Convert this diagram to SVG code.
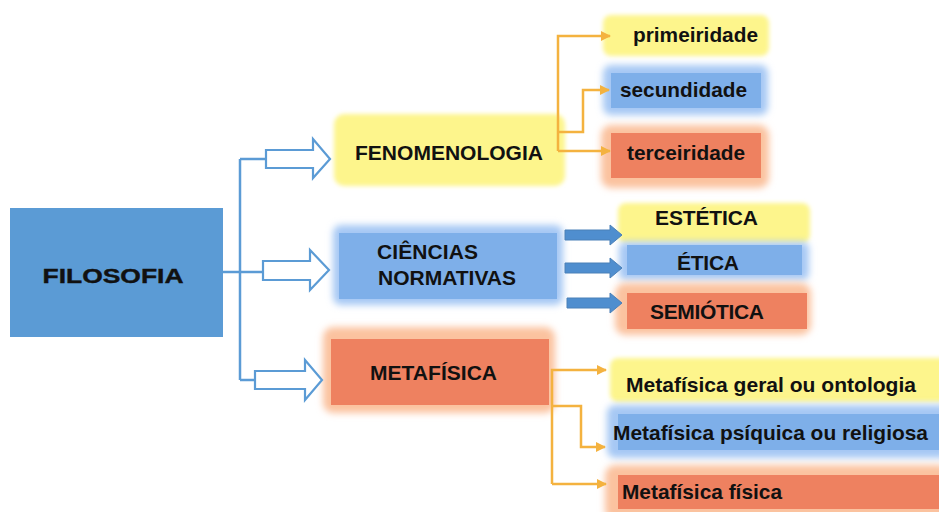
<svg xmlns="http://www.w3.org/2000/svg" width="939" height="512" viewBox="0 0 939 512">
<defs>
<style>
text{font-family:"Liberation Sans",Arial,sans-serif;font-weight:bold;font-size:21px;fill:#111;}
.yel{fill:#fdf58c;filter:url(#soft);}
.bglow{fill:#a6c8f4;filter:url(#blur);}
.bin{fill:#7eafe9;}
.oglow{fill:#fbc29f;filter:url(#blur);}
.oin{fill:#ee8160;}
.hol{fill:#fff;stroke:#5b9bd5;stroke-width:2.2;stroke-linejoin:miter;}
.bl{fill:none;stroke:#5b9bd5;stroke-width:2.5;}
.or{fill:none;stroke:#f4b23f;stroke-width:2.5;marker-end:url(#oh);}
.sol{fill:#4f8ecf;stroke:#4a80b8;stroke-width:1;}
</style>
<filter id="soft" x="-10%" y="-20%" width="120%" height="140%"><feGaussianBlur stdDeviation="2"/></filter>
<filter id="blur" x="-10%" y="-20%" width="120%" height="140%"><feGaussianBlur stdDeviation="3.5"/></filter>
<marker id="oh" markerUnits="userSpaceOnUse" markerWidth="10" markerHeight="10" refX="9" refY="5" orient="auto"><path d="M0,0 L10,5 L0,10 z" fill="#f4b23f"/></marker>
</defs>
<rect width="939" height="512" fill="#fff"/>

<g id="filosofia">
<rect x="10" y="208" width="213" height="129" fill="#5b9bd5"/>
<text x="113" y="283" text-anchor="middle" font-size="25" textLength="141" lengthAdjust="spacingAndGlyphs" stroke="#111" stroke-width="0.4">FILOSOFIA</text>
</g>

<g id="fenomenologia">
<rect class="yel" x="334" y="114" width="231" height="72" rx="10"/>
<text x="449" y="160" text-anchor="middle" textLength="188" lengthAdjust="spacingAndGlyphs">FENOMENOLOGIA</text>
</g>

<g id="ciencias">
<rect class="bglow" x="333" y="225" width="230" height="80" rx="8"/>
<rect class="bin" x="339" y="233" width="218" height="66"/>
<text x="377" y="259" textLength="101" lengthAdjust="spacing">CIÊNCIAS</text>
<text x="378" y="285" textLength="138" lengthAdjust="spacing">NORMATIVAS</text>
</g>

<g id="metafisica">
<rect class="oglow" x="323" y="327" width="232" height="86" rx="10"/>
<rect class="oin" x="331" y="339" width="218" height="66"/>
<text x="370" y="380" textLength="127" lengthAdjust="spacing">METAFÍSICA</text>
</g>

<g id="primeiridade">
<rect class="yel" x="603" y="15" width="166" height="41" rx="8"/>
<text x="633" y="42" textLength="125" lengthAdjust="spacingAndGlyphs">primeiridade</text>
</g>

<g id="secundidade">
<rect class="bglow" x="603" y="65" width="165" height="50" rx="8"/>
<rect class="bin" x="611" y="73" width="150" height="35"/>
<text x="620" y="97" textLength="127" lengthAdjust="spacingAndGlyphs">secundidade</text>
</g>

<g id="terceiridade">
<rect class="oglow" x="601" y="125" width="168" height="63" rx="10"/>
<rect class="oin" x="611" y="133" width="150" height="45"/>
<text x="627" y="160" textLength="118" lengthAdjust="spacingAndGlyphs">terceiridade</text>
</g>

<g id="estetica">
<rect class="yel" x="618" y="203" width="192" height="40" rx="8"/>
<text x="655" y="225" textLength="103" lengthAdjust="spacing">ESTÉTICA</text>
</g>

<g id="etica">
<rect class="bglow" x="619" y="242" width="190" height="38" rx="6"/>
<rect class="bin" x="627" y="245" width="175" height="30"/>
<text x="677" y="270" textLength="62" lengthAdjust="spacing">ÉTICA</text>
</g>

<g id="semiotica">
<rect class="oglow" x="615" y="283" width="196" height="52" rx="10"/>
<rect class="oin" x="627" y="293" width="180" height="36"/>
<text x="650" y="319" textLength="114" lengthAdjust="spacing">SEMIÓTICA</text>
</g>

<g id="ontologia">
<rect class="yel" x="610" y="358" width="340" height="44" rx="8"/>
<text x="626" y="392" textLength="290" lengthAdjust="spacingAndGlyphs">Metafísica geral ou ontologia</text>
</g>

<g id="psiquica">
<rect class="bglow" x="607" y="405" width="345" height="53" rx="8"/>
<rect class="bin" x="618" y="414" width="330" height="36"/>
<text x="613" y="440" textLength="315" lengthAdjust="spacingAndGlyphs">Metafísica psíquica ou religiosa</text>
</g>

<g id="fisica">
<rect class="oglow" x="605" y="465" width="345" height="55" rx="10"/>
<rect class="oin" x="618" y="475" width="330" height="34"/>
<text x="622" y="499" textLength="160" lengthAdjust="spacingAndGlyphs">Metafísica física</text>
</g>

<g id="connectors">
<path class="bl" d="M223,272 H265"/>
<path class="bl" d="M240,159 V380 M240,159 H267 M240,380 H256"/>
<path class="hol" d="M266,150 H313 V139 L330,159 L313,178 V168 H266 Z"/>
<path class="hol" d="M263,261 H310 V250 L329,270 L310,290 V280 H263 Z"/>
<path class="hol" d="M255,371 H305 V360 L322,380 L305,400 V389 H255 Z"/>
<path class="or" d="M558,151 V36 H610"/>
<path class="or" d="M558,132 H583 V90 H609"/>
<path class="or" d="M558,151 H610"/>
<path class="or" d="M552,484 V370 H606"/>
<path class="or" d="M552,406 H581 V447 H605"/>
<path class="or" d="M552,484 H606"/>
<path class="sol" d="M565,230 H610 V225 L622,235 L610,245 V240 H565 Z"/>
<path class="sol" d="M565,263 H610 V258 L622,268 L610,278 V273 H565 Z"/>
<path class="sol" d="M567,298 H610 V293 L622,303 L610,313 V308 H567 Z"/>
</g>
</svg>
